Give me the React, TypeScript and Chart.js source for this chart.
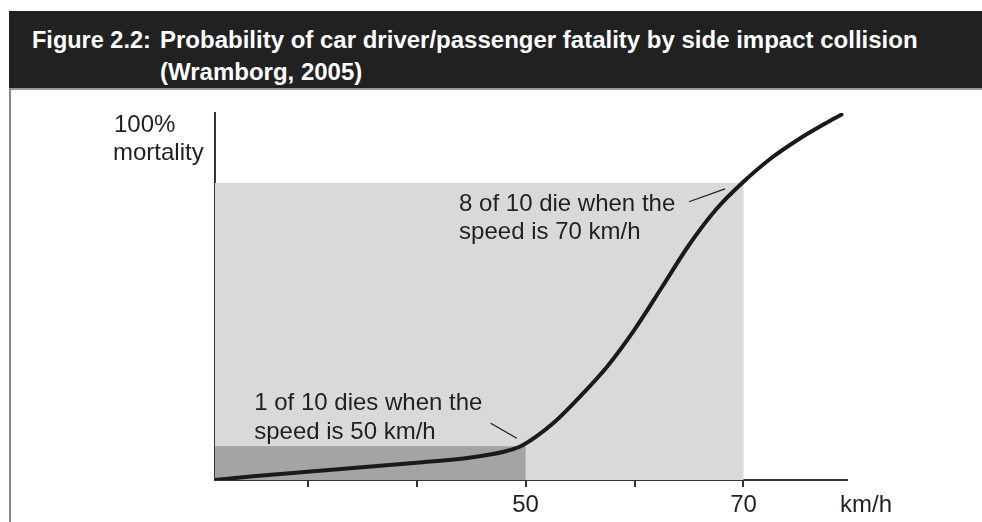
import React, { useEffect, useRef } from "react";
import { Chart, registerables } from "chart.js";

Chart.register(...registerables);

// Data
const speedsKmh = [21.5, 25, 30, 35, 40, 45, 48, 49.5, 51, 52.5, 55, 57.5, 60, 62.5, 65, 67.5, 70, 72.5, 75, 77.5, 79.0];
const mortality = [0.01, 0.02, 0.032, 0.044, 0.056, 0.07, 0.085, 0.099, 0.126, 0.16, 0.232, 0.312, 0.41, 0.522, 0.635, 0.73, 0.803, 0.865, 0.915, 0.958, 0.982];
const xTickValues = [30, 40, 50, 60, 70];
const labelledTicks = [50, 70];
const shadeSpeeds = [70, 50];
const shadeLevels = [0.8, 0.1];
const titleFigure = "Figure 2.2:";
const titleLines = ["Probability of car driver/passenger fatality by side impact collision", "(Wramborg, 2005)"];
const yAxisLabel = ["100%", "mortality"];
const xAxisUnit = "km/h";
const note70 = ["8 of 10 die when the", "speed is 70 km/h"];
const note50 = ["1 of 10 dies when the", "speed is 50 km/h"];

const FONT = '"Liberation Sans", Arial, sans-serif';
const TEXT = "#231f20";

const overlayPlugin = {
  id: "overlay",
  beforeDatasetsDraw(chart: any) {
    const { ctx, scales } = chart;
    const x = scales.x, y = scales.y;
    const colors = ["#d9d9d9", "#a4a4a7"];
    ctx.save();
    shadeSpeeds.forEach((s, i) => {
      const x0 = x.getPixelForValue(x.min);
      const x1 = x.getPixelForValue(s);
      const y0 = y.getPixelForValue(shadeLevels[i]);
      const y1 = y.getPixelForValue(y.min);
      ctx.fillStyle = colors[i];
      ctx.fillRect(x0, y0, x1 - x0, y1 - y0);
    });
    ctx.restore();
  },
  afterDraw(chart: any) {
    const { ctx, scales, chartArea } = chart;
    const x = scales.x, y = scales.y;
    ctx.save();
    ctx.fillStyle = TEXT;
    ctx.font = `24px ${FONT}`;
    ctx.textBaseline = "middle";
    ctx.textAlign = "left";
    // y label
    ctx.fillText(yAxisLabel[0], chartArea.left - 101, chartArea.top + 12);
    ctx.fillText(yAxisLabel[1], chartArea.left - 102, chartArea.top + 40);
    // notes
    const n70x = x.getPixelForValue(43.9);
    ctx.fillText(note70[0], n70x, y.getPixelForValue(0.744));
    ctx.fillText(note70[1], n70x, y.getPixelForValue(0.669));
    const n50x = x.getPixelForValue(25.1);
    ctx.fillText(note50[0], n50x, y.getPixelForValue(0.215));
    ctx.fillText(note50[1], n50x, y.getPixelForValue(0.137));
    // unit
    ctx.fillText(xAxisUnit, chartArea.right - 7, chartArea.bottom + 25);
    // leaders
    ctx.strokeStyle = "#231f20";
    ctx.lineWidth = 1.3;
    ctx.beginPath();
    ctx.moveTo(x.getPixelForValue(65.0), y.getPixelForValue(0.75));
    ctx.lineTo(x.getPixelForValue(68.3), y.getPixelForValue(0.784));
    ctx.moveTo(x.getPixelForValue(46.8), y.getPixelForValue(0.161));
    ctx.lineTo(x.getPixelForValue(49.2), y.getPixelForValue(0.121));
    ctx.stroke();
    ctx.restore();
  },
};

export default function App() {
  const ref = useRef<HTMLCanvasElement>(null);
  useEffect(() => {
    if (!ref.current) return;
    const chart = new Chart(ref.current, {
      type: "line",
      data: {
        datasets: [
          {
            data: speedsKmh.map((s, i) => ({ x: s, y: mortality[i] })),
            borderColor: "#1a1a1a",
            borderWidth: 4,
            pointRadius: 0,
            cubicInterpolationMode: "monotone",
            borderCapStyle: "round",
            fill: false,
          },
        ],
      },
      options: {
        animation: false,
        responsive: false,
        events: [],
        layout: { padding: { left: 205, right: 135, top: 23, bottom: 0 } },
        plugins: { legend: { display: false }, tooltip: { enabled: false }, title: { display: false } },
        scales: {
          x: {
            type: "linear",
            min: 21.5,
            max: 79.5,
            afterBuildTicks: (axis: any) => {
              axis.ticks = xTickValues.map((v) => ({ value: v }));
            },
            afterFit: (s: any) => {
              s.height = 42;
            },
            ticks: {
              autoSkip: false,
              maxRotation: 0,
              padding: 4,
              color: TEXT,
              font: { family: FONT, size: 24 },
              callback: (v: any) => {
                const idx = labelledTicks.indexOf(Number(v));
                return idx >= 0 ? String(labelledTicks[idx]) : "";
              },
            },
            grid: { display: true, drawOnChartArea: false, drawTicks: true, tickLength: 7, color: "#333", lineWidth: 2 },
            border: { display: true, color: "#333", width: 2 },
          },
          y: {
            type: "linear",
            min: 0.01,
            max: 0.986,
            afterFit: (s: any) => {
              s.width = 10;
            },
            ticks: { display: false },
            grid: { display: false, drawTicks: false },
            border: { display: true, color: "#333", width: 2 },
          },
        },
      },
      plugins: [overlayPlugin],
    } as any);
    return () => chart.destroy();
  }, []);

  return (
    <div style={{ position: "fixed", left: 0, top: 0, width: 982, height: 522, background: "#fff", overflow: "hidden" }}>
      <div style={{ position: "absolute", left: 9, top: 11, width: 973, height: 77, background: "#212121" }} />
      <div style={{ position: "absolute", left: 9, top: 88, width: 973, height: 2, background: "#9a9a9a" }} />
      <div style={{ position: "absolute", left: 9, top: 88, width: 2, height: 434, background: "#8a8a8a" }} />
      <div style={{ position: "absolute", left: 32, top: 24, color: "#fff", font: `bold 23.5px ${FONT}`, lineHeight: "32px", whiteSpace: "nowrap" }}>
        {titleFigure}
      </div>
      <div style={{ position: "absolute", left: 160, top: 24, color: "#fff", font: `bold 24px ${FONT}`, lineHeight: "32px", whiteSpace: "nowrap" }}>
        <div>{titleLines[0]}</div>
        <div>{titleLines[1]}</div>
      </div>
      <canvas ref={ref} width={982} height={432} style={{ position: "absolute", left: 0, top: 90, width: 982, height: 432 }} />
    </div>
  );
}
